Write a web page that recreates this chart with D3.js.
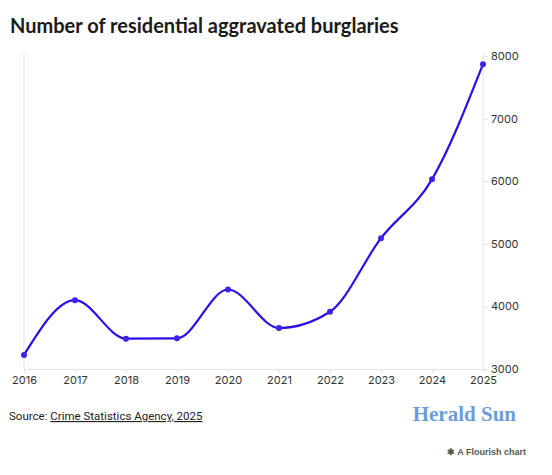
<!DOCTYPE html>
<html>
<head>
<meta charset="utf-8">
<script src="https://cdn.jsdelivr.net/npm/d3@7"></script>
<style>
  body { margin: 0; background: #fff; }
  svg { display: block; }
  .title { font-family: "Lato", sans-serif; font-weight: 700; fill: #1a1a1a; }
  .tick text { font-family: "Inter", sans-serif; font-size: 11px; fill: #333; }
  .source { font-family: "Roboto", sans-serif; font-size: 11.5px; fill: #222; }
</style>
</head>
<body>
<div id="chart"></div>
<script>
// data
const years = ['2016', '2017', '2018', '2019', '2020', '2021', '2022', '2023', '2024', '2025'];
const burglaries = [3225, 4100, 3485, 3490, 4270, 3655, 3915, 5090, 6030, 7870];
const yTicks = [3000, 4000, 5000, 6000, 7000, 8000];

const width = 552;
const height = 475;
const marginTop = 56;
const marginLeft = 24;
const marginRight = 69;
const marginBottom = 106;

const lineColor = '#2c0fe6';
const dotColor = '#3a24e8';
const gridColor = '#e2e2e2';

const $svg = d3.select('#chart').append('svg')
  .attr('width', width)
  .attr('height', height);

// title
$svg.append('text')
  .attr('class', 'title')
  .attr('x', 10)
  .attr('y', 33)
  .style('font-size', '20px')
  .text('Number of residential aggravated burglaries');

// scales
const scaleX = d3.scalePoint()
  .domain(years)
  .range([marginLeft, width - marginRight]);

const scaleY = d3.scaleLinear()
  .domain([3000, 8000])
  .range([height - marginBottom, marginTop]);

const data = years.map((y, i) => ({ year: y, value: burglaries[i] }));

// left frame line
$svg.append('line')
  .attr('x1', marginLeft).attr('x2', marginLeft)
  .attr('y1', marginTop - 3).attr('y2', scaleY(3000))
  .attr('stroke', gridColor);

// x axis
const $xAxis = $svg.append('g')
  .attr('transform', `translate(0, ${scaleY(3000)})`)
  .call(d3.axisBottom(scaleX).tickSize(4).tickPadding(3));
$xAxis.select('.domain').attr('stroke', gridColor);
$xAxis.selectAll('.tick line').attr('stroke', gridColor);

// y axis on the right
const $yAxis = $svg.append('g')
  .attr('transform', `translate(${width - marginRight}, 0)`)
  .call(d3.axisRight(scaleY).tickValues(yTicks).tickSize(5).tickPadding(3).tickFormat(d3.format('d')));
$yAxis.select('.domain').attr('stroke', gridColor)
  .attr('d', `M0,${marginTop - 3}V${scaleY(3000)}`);
$yAxis.selectAll('.tick line').attr('stroke', gridColor);

// line
const line = d3.line()
  .x(d => scaleX(d.year))
  .y(d => scaleY(d.value))
  .curve(d3.curveMonotoneX);

$svg.append('path')
  .datum(data)
  .attr('fill', 'none')
  .attr('stroke', lineColor)
  .attr('stroke-width', 2.2)
  .attr('d', line);

$svg.selectAll('.dot')
  .data(data)
  .enter()
  .append('circle')
  .attr('class', 'dot')
  .attr('cx', d => scaleX(d.year))
  .attr('cy', d => scaleY(d.value))
  .attr('r', 3)
  .attr('fill', dotColor);

// footer
const $src = $svg.append('text')
  .attr('class', 'source')
  .attr('x', 9)
  .attr('y', 420);
$src.append('tspan').text('Source: ');
$src.append('tspan').attr('text-decoration', 'underline').text('Crime Statistics Agency, 2025');

$svg.append('text')
  .attr('x', 516)
  .attr('y', 421)
  .attr('text-anchor', 'end')
  .style('font-family', '"Liberation Serif", serif')
  .style('font-weight', 700)
  .style('font-size', '21px')
  .style('fill', '#6b9ddc')
  .text('Herald Sun');

$svg.append('text')
  .attr('x', 526)
  .attr('y', 455)
  .attr('text-anchor', 'end')
  .style('font-family', '"Liberation Sans", Arial, sans-serif')
  .style('font-size', '9px')
  .style('font-weight', 700)
  .style('fill', '#555')
  .text('\u2731 A Flourish chart');
</script>
</body>
</html>
